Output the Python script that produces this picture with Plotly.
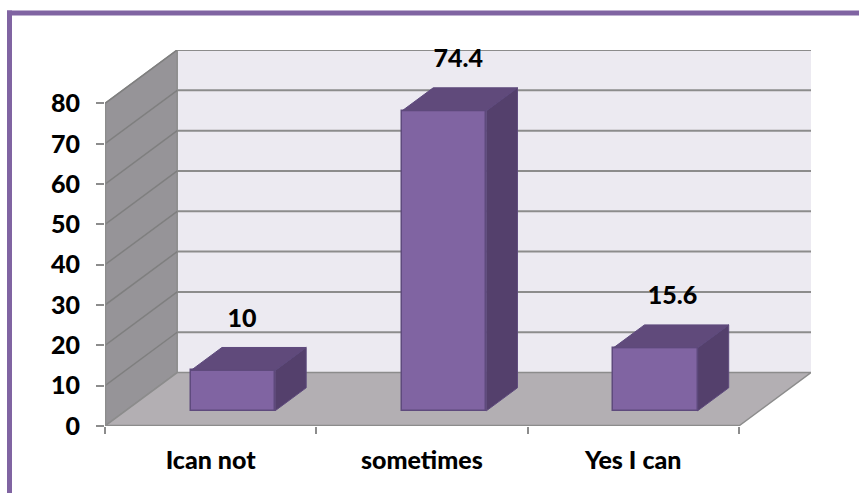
import plotly.graph_objects as go

# Data
categories = ["Ican not", "sometimes", "Yes I can"]
values = [10, 74.4, 15.6]
value_labels = ["10", "74.4", "15.6"]
y_ticks = [0, 10, 20, 30, 40, 50, 60, 70, 80]

# Layout / style (pixel geometry of the pseudo-3D box)
W, H = 859, 493
PLOT_L, PLOT_R, PLOT_T, PLOT_B = 105, 811, 49.5, 426
UX = (737 - 105) / 3          # px per category
UY = (426 - 103) / 80         # px per value unit
DX, DY = 72 / UX, 53.5 / UY   # full box depth in data units
FRONT_X, FRONT_Y = 0.31, 0.285  # bar front position as fraction of box depth
BACK_GAP = 0.43               # bar depth as fraction of box depth
BAR_W = 84 / UX
LBL_DX = [9 / UX, 14 / UX, 17 / UX]
LBL_DY = 50 / UY

C_FRONT, C_TOP, C_SIDE = "#8064A2", "#604A7B", "#54406C"
C_EDGE = "#5E4A7D"
C_BACK, C_LEFT, C_FLOOR = "#ECEAF1", "#969498", "#B3AFB3"
C_GRID = "#8C8C8C"
C_DIAG = "#7F7F7F"
FONT = dict(family="Lato", size=25, color="#000000", weight=900)

n = len(categories)
Y_MAX = y_ticks[-1]
PH = PLOT_B - PLOT_T
PW = PLOT_R - PLOT_L


def poly(pts):
    return "M " + " L ".join(f"{x},{y}" for x, y in pts) + " Z"


shapes = [
    # frame
    dict(type="line", xref="paper", yref="paper", x0=(7 - PLOT_L) / PW, x1=1.2,
         y0=(PLOT_B - 12.5) / PH, y1=(PLOT_B - 12.5) / PH,
         line=dict(color="#8064A2", width=5), layer="below"),
    dict(type="line", xref="paper", yref="paper", x0=(9.5 - PLOT_L) / PW, x1=(9.5 - PLOT_L) / PW,
         y0=-0.3, y1=(PLOT_B - 10) / PH, line=dict(color="#8064A2", width=5), layer="below"),
    # walls
    dict(type="path", path=poly([(DX, DY), (n + DX, DY), (n + DX, Y_MAX + DY), (DX, Y_MAX + DY)]),
         fillcolor=C_BACK, line=dict(width=0), layer="below"),
    dict(type="path", path=poly([(0, 0), (DX, DY), (DX, Y_MAX + DY), (0, Y_MAX)]),
         fillcolor=C_LEFT, line=dict(color=C_GRID, width=1.5), layer="below"),
    dict(type="path", path=poly([(0, 0), (n, 0), (n + DX, DY), (DX, DY)]),
         fillcolor=C_FLOOR, line=dict(color=C_GRID, width=1.5), layer="below"),
]
for t in y_ticks:
    if t > 0:
        shapes.append(dict(type="line", x0=DX, x1=n + DX, y0=t + DY, y1=t + DY,
                           line=dict(color=C_GRID, width=2), layer="below"))
        shapes.append(dict(type="line", x0=0, x1=DX, y0=t, y1=t + DY,
                           line=dict(color=C_DIAG, width=1.5), layer="below"))
# axis lines
shapes.append(dict(type="line", x0=0, x1=0, y0=0, y1=Y_MAX, line=dict(color=C_GRID, width=2.5), layer="below"))
shapes.append(dict(type="line", x0=0, x1=n, y0=0, y1=0, line=dict(color=C_GRID, width=2.5), layer="below"))

fig = go.Figure()

centers = [i + 0.5 + FRONT_X * DX for i in range(n)]
base = FRONT_Y * DY
fig.add_trace(go.Bar(
    x=centers, y=values, base=[base] * n, width=BAR_W,
    marker=dict(color=C_FRONT, line=dict(color=C_EDGE, width=1.5)),
    showlegend=False, hoverinfo="skip",
))

ddx, ddy = BACK_GAP * DX, BACK_GAP * DY
for c, v in zip(centers, values):
    l, r = c - BAR_W / 2, c + BAR_W / 2
    top = base + v
    fig.add_trace(go.Scatter(
        x=[l, r, r + ddx, l + ddx, l], y=[top, top, top + ddy, top + ddy, top],
        mode="lines", fill="toself", fillcolor=C_TOP,
        line=dict(color=C_EDGE, width=1), showlegend=False, hoverinfo="skip"))
    fig.add_trace(go.Scatter(
        x=[r, r + ddx, r + ddx, r, r], y=[base, base + ddy, top + ddy, top, base],
        mode="lines", fill="toself", fillcolor=C_SIDE,
        line=dict(color=C_EDGE, width=1), showlegend=False, hoverinfo="skip"))

fig.add_trace(go.Scatter(
    x=[c + d for c, d in zip(centers, LBL_DX)],
    y=[base + v + LBL_DY for v in values],
    mode="text", text=value_labels, textposition="middle center",
    textfont=FONT, showlegend=False, hoverinfo="skip", cliponaxis=False))

fig.update_layout(
    width=W, height=H,
    margin=dict(l=PLOT_L, r=W - PLOT_R, t=PLOT_T, b=H - PLOT_B, autoexpand=False, pad=0),
    paper_bgcolor="white", plot_bgcolor="white",
    shapes=shapes, bargap=0,
    xaxis=dict(
        range=[0, n + DX], tickmode="array",
        tickvals=[i + 0.5 for i in range(n)], ticktext=categories,
        ticks="", showgrid=False, zeroline=False, showline=False,
        tickfont=FONT, ticklabelstandoff=17,
        minor=dict(tickmode="array", tickvals=list(range(n + 1)), ticks="outside",
                   ticklen=7, tickwidth=2, tickcolor=C_GRID, showgrid=False),
    ),
    yaxis=dict(
        range=[0, Y_MAX + DY], tickmode="array", tickvals=y_ticks,
        ticks="outside", ticklen=8, tickwidth=2, tickcolor=C_GRID,
        showgrid=False, zeroline=False, showline=False,
        tickfont=FONT, ticklabelstandoff=11,
    ),
)

fig.write_html("out.html", config=dict(displayModeBar=False),
               post_script="document.body.style.margin='0';document.body.style.overflow='hidden';")
